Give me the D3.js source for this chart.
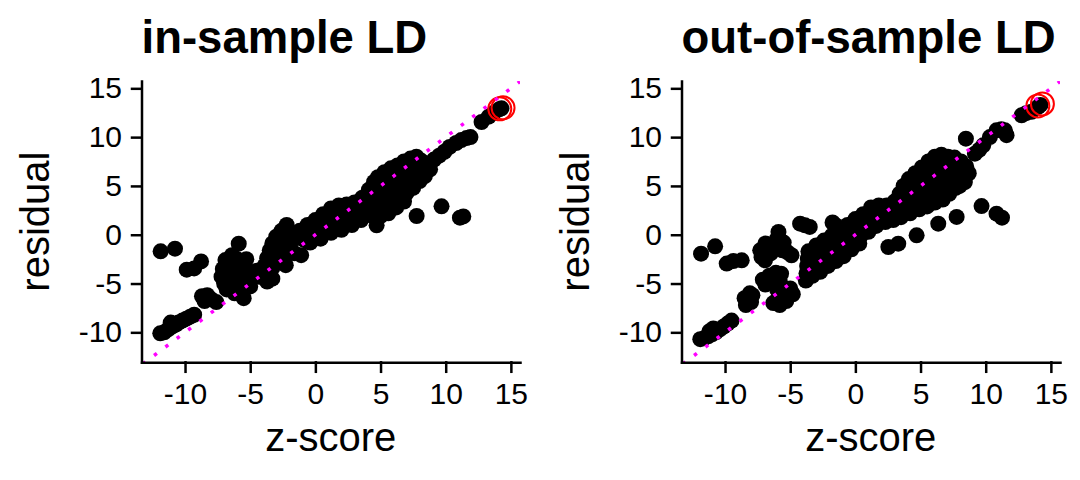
<!DOCTYPE html>
<html>
<head>
<meta charset="utf-8">
<script src="https://cdnjs.cloudflare.com/ajax/libs/d3/7.8.5/d3.min.js"></script>
<style>
  body { margin: 0; background: #fff; }
  svg { display: block; }
</style>
</head>
<body>
<svg id="chart"></svg>
<script>
// panel titles and axis text
var titles = ["in-sample LD", "out-of-sample LD"];
var xLabel = "z-score";
var yLabel = "residual";
var xTicks = [-10, -5, 0, 5, 10, 15];
var yTicks = [-10, -5, 0, 5, 10, 15];

// [z-score, residual]
var inSample = [
  [-11.9, -10.1], [-11.6, -10.0], [-11.3, -9.7], [-11.1, -9.0], [-11.0, -9.4], [-10.7, -9.2],
  [-10.5, -9.0], [-10.2, -8.8], [-9.9, -8.6], [-9.6, -8.4], [-9.3, -8.2],
  [-11.87, -1.70], [-10.77, -1.43], [-9.87, -3.58], [-9.3, -3.45], [-8.77, -2.73],
  [-8.7, -6.3], [-8.3, -6.2], [-8.0, -6.6], [-7.6, -6.9], [-8.5, -6.8],
  [-5.88, -0.92], [-6.4, -2.1], [-6.9, -2.6], [-6.0, -2.5], [-5.3, -2.5], [-7.1, -3.5],
  [-6.5, -3.2], [-5.9, -3.3], [-5.3, -3.5], [-7.2, -4.3], [-6.6, -4.4], [-5.9, -4.2],
  [-5.2, -4.4], [-7.0, -5.0], [-6.4, -5.2], [-5.8, -5.1], [-5.0, -5.3], [-6.8, -5.6],
  [-6.2, -6.0], [-5.6, -5.8], [-5.5, -6.5],
  [-2.2, 1.0], [-2.6, 0.4], [-3.0, -0.2], [-3.3, -0.9], [-3.5, -1.6], [-3.7, -2.4],
  [-3.9, -3.2], [-3.8, -4.0], [-3.7, -4.8], [-4.3, -4.3], [-4.5, -3.7], [-2.7, -0.8],
  [-2.4, -0.1], [-2.9, -1.6], [-3.1, -2.5], [-3.3, -3.4], [-2.6, -2.3], [-2.27, -3.12],
  [-2.0, -1.3], [-1.6, -1.9], [-1.09, -2.09], [-1.8, -0.6], [-1.5, 0.0], [-3.3, -4.5],
  [-1.2, 0.4], [-0.6, 1.0], [0.0, 1.5], [0.6, 2.1], [1.2, 2.7], [1.8, 3.0], [2.4, 3.1],
  [3.0, 3.3], [3.6, 3.8], [4.1, 4.6], [4.5, 5.4], [4.8, 5.9], [5.3, 6.4], [5.8, 6.8],
  [6.3, 7.1], [6.8, 7.5], [7.3, 7.8], [7.75, 8.0],
  [-1.05, -0.05], [-0.45, 0.55], [0.15, 1.05], [0.75, 1.6], [1.35, 2.1], [1.95, 2.45],
  [2.55, 2.65], [3.15, 2.95], [3.75, 3.4], [4.25, 4.1], [4.75, 4.8], [5.15, 5.3],
  [5.65, 5.8], [6.15, 6.25], [6.65, 6.7], [7.15, 7.1], [7.6, 7.4], [8.1, 7.6],
  [-0.9, -0.5], [-0.3, 0.1], [0.3, 0.6], [0.9, 1.1], [1.5, 1.5], [2.1, 1.9], [2.7, 2.2],
  [3.3, 2.6], [3.9, 3.0], [4.4, 3.6], [5.0, 4.2], [5.5, 4.8], [6.0, 5.4], [6.5, 5.9],
  [7.0, 6.4], [7.5, 6.8], [8.0, 7.2], [8.5, 7.3],
  [-0.65, -0.65], [0.05, -0.15], [0.75, 0.35], [1.55, 0.85], [2.35, 1.2], [3.05, 1.8],
  [3.7, 2.25], [4.5, 2.8], [5.15, 3.35], [5.7, 3.9], [6.25, 4.6], [6.75, 5.1],
  [7.25, 5.6], [7.75, 6.15], [8.2, 6.6],
  [-0.4, -0.8], [0.4, -0.4], [1.2, 0.2], [2.0, 0.5], [2.8, 1.0], [3.5, 1.5], [4.2, 2.0],
  [5.3, 2.5], [5.9, 3.0], [6.5, 3.8], [7.0, 4.3], [7.5, 4.8], [8.0, 5.5], [8.4, 6.0],
  [8.8, 6.7], [5.0, 1.9], [5.6, 2.2], [6.2, 2.8], [6.8, 3.4],
  [4.7, 0.96], [7.77, 1.92], [9.68, 2.91], [11.09, 1.75], [11.35, 1.88],
  [9.1, 7.7], [9.5, 8.1], [9.9, 8.5], [10.3, 9.0], [10.8, 9.4], [11.2, 9.7], [11.6, 9.9],
  [11.9, 10.0], [12.75, 11.55], [13.3, 12.1], [13.7, 12.5], [14.1, 12.85], [14.28, 12.95]
];

// [z-score, residual]
var outSample = [
  [-11.9, -10.7], [-11.6, -10.6], [-11.3, -10.4], [-11.0, -10.2], [-10.7, -10.0], [-10.4, -9.7],
  [-10.1, -9.4], [-9.8, -9.1], [-9.5, -8.8], [-11.2, -9.9], [-10.9, -9.6],
  [-11.84, -1.94], [-10.76, -1.19], [-9.87, -2.96], [-9.36, -2.69], [-8.72, -2.62],
  [-7.3, -1.6], [-6.9, -0.9], [-6.5, -1.9], [-6.2, -1.1], [-5.9, 0.28], [-6.0, -0.4],
  [-5.5, -0.8], [-5.6, -1.6], [-4.9, -2.1], [-6.93, -2.62], [-7.2, -2.3], [-5.2, -1.8],
  [-8.5, -6.5], [-8.1, -6.0], [-8.4, -7.2], [-8.0, -6.9], [-7.9, -6.2],
  [-7.1, -4.6], [-6.6, -4.2], [-6.1, -3.9], [-5.7, -4.0], [-6.9, -5.1], [-6.3, -4.9],
  [-5.8, -4.8], [-6.0, -5.6], [-5.5, -5.5], [-5.0, -5.5], [-4.8, -6.1], [-5.4, -6.2],
  [-5.9, -6.4], [-6.3, -7.0], [-5.8, -7.2], [-5.3, -6.8],
  [-4.24, 1.13], [-3.86, 0.96], [-3.5, 0.8], [-1.75, 1.25], [-1.55, 1.0],
  [-3.6, -1.7], [-3.0, -1.1], [-2.4, -0.6], [-1.8, -0.1], [-1.2, 0.4], [-0.6, 1.0],
  [0.0, 1.6], [0.6, 2.1],
  [-3.65, -2.45], [-3.05, -1.85], [-2.45, -1.35], [-1.85, -0.85], [-1.25, -0.35],
  [-0.65, 0.25], [-0.05, 0.85], [0.55, 1.35],
  [-3.7, -3.2], [-3.1, -2.6], [-2.5, -2.1], [-1.9, -1.6], [-1.3, -1.1], [-0.7, -0.5],
  [-0.1, 0.1], [0.5, 0.6],
  [-3.75, -3.95], [-3.2, -3.4], [-2.6, -2.95], [-2.0, -2.4], [-1.4, -1.9], [-0.8, -1.35],
  [-0.2, -0.7], [0.4, -0.15],
  [-3.8, -4.7], [-3.3, -4.2], [-2.7, -3.8], [-2.1, -3.2], [-1.5, -2.7], [-0.9, -2.2],
  [-0.3, -1.5], [0.3, -0.9],
  [1.2, 2.8], [1.8, 3.0], [2.4, 3.0], [3.0, 3.4], [3.4, 4.2], [3.7, 5.0], [4.1, 5.7],
  [4.6, 6.3], [5.1, 6.9], [5.6, 7.5], [6.1, 8.0], [6.6, 8.2], [7.1, 8.0], [7.6, 7.9],
  [8.1, 7.5], [8.5, 7.0], [8.7, 6.3],
  [1.1, 2.0], [1.7, 2.4], [2.3, 2.5], [2.9, 2.85], [3.4, 3.5], [3.85, 4.25], [4.3, 4.95],
  [4.8, 5.6], [5.3, 6.25], [5.8, 6.85], [6.3, 7.4], [6.8, 7.6], [7.3, 7.3], [7.8, 7.0],
  [8.3, 6.5],
  [1.0, 1.2], [1.6, 1.8], [2.2, 2.0], [2.8, 2.3], [3.4, 2.8], [4.0, 3.5], [4.5, 4.2],
  [5.0, 4.9], [5.5, 5.6], [6.0, 6.2], [6.5, 6.8], [7.0, 7.1], [7.5, 6.6], [8.0, 6.0],
  [8.4, 5.4], [6.5, 5.3], [7.2, 5.7], [5.7, 4.5], [6.9, 4.6], [7.5, 5.1], [5.0, 3.8],
  [6.2, 4.0],
  [1.0, 0.75], [1.6, 1.35], [2.25, 1.65], [2.85, 1.9], [3.45, 2.3], [4.1, 2.85],
  [4.7, 3.4], [5.25, 4.0], [5.6, 4.9], [6.1, 5.0], [6.6, 5.9], [7.1, 6.2], [7.6, 5.7],
  [8.0, 5.0],
  [1.0, 0.3], [1.6, 0.9], [2.3, 1.3], [2.9, 1.5], [3.5, 1.8], [4.2, 2.2], [4.9, 2.6],
  [5.5, 2.9], [6.1, 3.3], [6.7, 3.6], [7.2, 4.2], [7.7, 4.8], [8.1, 5.3], [5.8, 3.9],
  [4.6, 3.2], [6.3, 4.3],
  [2.53, -1.26], [3.29, -0.92], [4.7, -0.06], [6.36, 1.13], [7.77, 1.82], [9.68, 2.94],
  [10.83, 2.16], [11.25, 1.75], [8.48, 9.84],
  [9.17, 8.3], [9.5, 8.7], [9.81, 9.16], [10.32, 10.0], [10.83, 10.7], [11.2, 10.8],
  [11.47, 10.7], [11.6, 10.2], [12.75, 12.23], [13.1, 12.45], [13.52, 12.6], [14.03, 13.1],
  [14.2, 13.3]
];

// red rings around the lead variant
var inSampleLead = [[14.15, 12.9], [14.4, 13.0]];
var outSampleLead = [[14.0, 13.2], [14.35, 13.4]];

// identity line end points
var diag = [-13.34, 15.7];

var w = 1080;
var h = 480;
var font = "'Liberation Sans', Arial, Helvetica, sans-serif";

var svg = d3.select("#chart")
  .attr("width", w)
  .attr("height", h)
  .style("font-family", font);

var panels = [
  { title: titles[0], points: inSample, lead: inSampleLead, dx: 0 },
  { title: titles[1], points: outSample, lead: outSampleLead, dx: 540 }
];

panels.forEach(function(p, i) {
  var left = 141.5 + p.dx;
  var right = 520 + p.dx;
  var top = 81;
  var bottom = 362.3;

  var xScale = d3.scaleLinear()
    .domain([-13.34, 15.7])
    .range([left, right]);

  var yScale = d3.scaleLinear()
    .domain([-13.07, 15.75])
    .range([bottom, top]);

  var clipId = "clip" + i;
  svg.append("clipPath")
    .attr("id", clipId)
    .append("rect")
    .attr("x", left)
    .attr("y", top)
    .attr("width", right - left)
    .attr("height", bottom - top);

  var plot = svg.append("g");

  plot.selectAll("circle.pt")
    .data(p.points)
    .enter()
    .append("circle")
    .attr("class", "pt")
    .attr("cx", function(d) { return xScale(d[0]); })
    .attr("cy", function(d) { return yScale(d[1]); })
    .attr("r", 8)
    .attr("fill", "#000");

  plot.selectAll("circle.lead")
    .data(p.lead)
    .enter()
    .append("circle")
    .attr("class", "lead")
    .attr("cx", function(d) { return xScale(d[0]); })
    .attr("cy", function(d) { return yScale(d[1]); })
    .attr("r", 11.5)
    .attr("fill", "none")
    .attr("stroke", "#ff0000")
    .attr("stroke-width", 2);

  //dotted y = x line, clipped to the panel
  var line = d3.line()
    .x(function(d) { return xScale(d); })
    .y(function(d) { return yScale(d); });

  plot.append("path")
    .datum(diag)
    .attr("d", line)
    .attr("clip-path", "url(#" + clipId + ")")
    .attr("fill", "none")
    .attr("stroke", "#ff00ff")
    .attr("stroke-width", 3.5)
    .attr("stroke-dasharray", "3.5 10.7")
    .attr("stroke-dashoffset", -1.5);

  //axes
  var xAxis = d3.axisBottom(xScale)
    .tickValues(xTicks)
    .tickFormat(function(d) { return String(d); })
    .tickSize(9.5)
    .tickSizeOuter(0)
    .tickPadding(11);

  var yAxis = d3.axisLeft(yScale)
    .tickValues(yTicks)
    .tickFormat(function(d) { return String(d); })
    .tickSize(9.5)
    .tickSizeOuter(0)
    .tickPadding(10);

  var gx = svg.append("g")
    .attr("transform", "translate(0," + bottom + ")")
    .call(xAxis);

  var gy = svg.append("g")
    .attr("transform", "translate(" + left + ",0)")
    .call(yAxis);

  [gx, gy].forEach(function(g) {
    g.attr("font-family", font).attr("font-size", 30);
    g.selectAll("path, line")
      .attr("stroke", "#000")
      .attr("stroke-width", 2.5)
      .attr("stroke-linecap", "square");
    g.selectAll("text").attr("fill", "#000");
  });

  //labels
  svg.append("text")
    .text(p.title)
    .attr("x", left)
    .attr("y", 53.3)
    .attr("font-size", 45.5)
    .attr("font-weight", "bold")
    .attr("fill", "#000");

  svg.append("text")
    .text(xLabel)
    .attr("x", (left + right) / 2)
    .attr("y", 451)
    .attr("text-anchor", "middle")
    .attr("font-size", 40)
    .attr("fill", "#000");

  svg.append("text")
    .text(yLabel)
    .attr("text-anchor", "middle")
    .attr("font-size", 40)
    .attr("fill", "#000")
    .attr("transform", "translate(" + (49 + p.dx) + "," + ((top + bottom) / 2) + ") rotate(-90)");
});
</script>
</body>
</html>
